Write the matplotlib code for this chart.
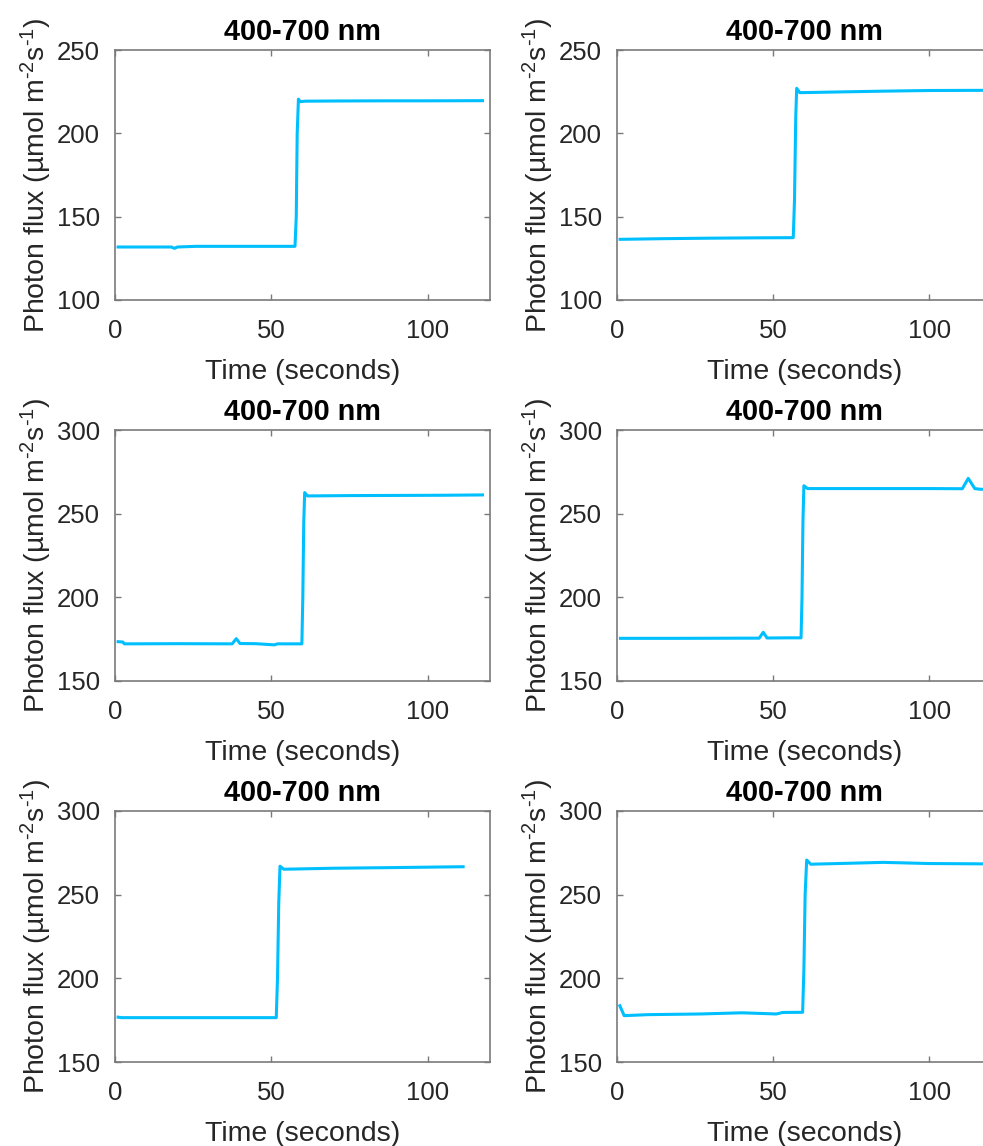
import matplotlib
matplotlib.use("Agg")
import matplotlib.pyplot as plt

# ---- readings, one trace per panel (time in s, photon flux) ----
t1 = [1.0, 10.0, 18.0, 19.0, 20.0, 26.0, 40.0, 57.6, 58.0, 58.3, 58.7, 59.3, 61.0, 70.0, 85.0, 100.0, 117.6]
f1 = [131.8, 131.8, 131.8, 131.0, 131.8, 132.2, 132.2, 132.2, 150.0, 200.0, 220.5, 219.0, 219.3, 219.4, 219.5, 219.5, 219.6]

t2 = [1.0, 15.0, 30.0, 45.0, 56.4, 56.8, 57.2, 57.5, 58.5, 70.0, 85.0, 100.0, 118.0]
f2 = [136.4, 136.8, 137.1, 137.3, 137.4, 160.0, 210.0, 227.0, 224.4, 224.8, 225.3, 225.7, 225.8]

t3 = [1.0, 2.5, 3.0, 20.0, 37.5, 38.8, 40.0, 45.0, 51.0, 52.0, 59.8, 60.1, 60.4, 60.7, 61.6, 75.0, 90.0, 105.0, 117.6]
f3 = [173.5, 173.3, 172.2, 172.3, 172.2, 175.3, 172.4, 172.3, 171.6, 172.2, 172.2, 200.0, 245.0, 262.6, 260.6, 260.8, 260.9, 261.0, 261.2]

t4 = [1.1, 20.0, 40.0, 45.5, 46.8, 48.0, 55.0, 58.9, 59.2, 59.5, 59.8, 61.0, 80.0, 100.0, 110.5, 112.4, 114.5, 116.1, 118.0]
f4 = [175.5, 175.5, 175.6, 175.6, 179.1, 175.7, 175.8, 175.8, 200.0, 245.0, 266.7, 265.0, 265.0, 265.0, 264.9, 271.1, 265.0, 264.6, 264.5]

t5 = [1.0, 2.0, 15.0, 30.0, 45.0, 51.6, 52.0, 52.4, 52.8, 54.0, 70.0, 90.0, 111.4]
f5 = [176.8, 176.5, 176.5, 176.5, 176.5, 176.5, 200.0, 245.0, 267.0, 265.2, 265.8, 266.2, 266.7]

t6 = [0.9, 2.3, 10.0, 26.6, 40.0, 51.0, 53.0, 59.4, 59.8, 60.2, 60.7, 62.0, 75.0, 85.2, 100.0, 118.0]
f6 = [183.6, 177.7, 178.3, 178.7, 179.4, 178.7, 179.6, 179.7, 205.0, 250.0, 270.7, 268.2, 268.8, 269.3, 268.6, 268.4]

traces = [(t1, f1), (t2, f2), (t3, f3), (t4, f4), (t5, f5), (t6, f6)]
y_limits = [(100, 250), (100, 250), (150, 300), (150, 300), (150, 300), (150, 300)]
y_ticks = [[100, 150, 200, 250], [100, 150, 200, 250],
           [150, 200, 250, 300], [150, 200, 250, 300],
           [150, 200, 250, 300], [150, 200, 250, 300]]
x_ticks = [0, 50, 100]

TITLE = "400-700 nm"
XLABEL = "Time (seconds)"
YLABEL = r"Photon flux (µmol m$^{\text{-2}}$s$^{\text{-1}}$)"

# ---- style ----
plt.rcParams["font.family"] = ["Liberation Sans", "DejaVu Sans"]
plt.rcParams["mathtext.fontset"] = "custom"
plt.rcParams["mathtext.rm"] = "Liberation Sans"
plt.rcParams["mathtext.default"] = "regular"

LINE = "#00bfff"
TEXT = "#262626"
AXIS = "#7a7a7a"

W, H = 983, 1146
fig = plt.figure(figsize=(W / 100, H / 100), dpi=100)

# axes boxes in pixels: left, top, right, bottom
cols = [(115, 490), (617, 992)]
rows = [(50, 300), (430, 681), (811, 1062)]

for i, (t, f) in enumerate(traces):
    r, c = divmod(i, 2)
    x0, x1 = cols[c]
    top, bot = rows[r]
    ax = fig.add_axes([x0 / W, 1 - bot / H, (x1 - x0) / W, (bot - top) / H])

    ax.plot(t, f, color=LINE, lw=2.2, solid_joinstyle="round")

    ax.set_xlim(0, 120)
    ax.set_ylim(*y_limits[i])
    ax.set_xticks(x_ticks)
    ax.set_yticks(y_ticks[i])

    for s in ax.spines.values():
        s.set_color(AXIS)
        s.set_linewidth(1.2)
    ax.tick_params(direction="in", length=4, width=1.0, color=AXIS,
                   top=True, right=True, labelsize=18.5, labelcolor=TEXT)
    ax.tick_params(axis="x", pad=13.5)
    ax.tick_params(axis="y", pad=11)

    ax.set_title(TITLE, fontsize=20.8, fontweight="bold", color="black", pad=7)
    ax.set_xlabel(XLABEL, fontsize=20.5, color=TEXT)
    ax.set_ylabel(YLABEL, fontsize=20.5, color=TEXT)
    ax.xaxis.set_label_coords(0.5, -0.235)
    ax.yaxis.set_label_coords(-0.163, 0.5)

fig.savefig("out.png", dpi=100, facecolor="white")
